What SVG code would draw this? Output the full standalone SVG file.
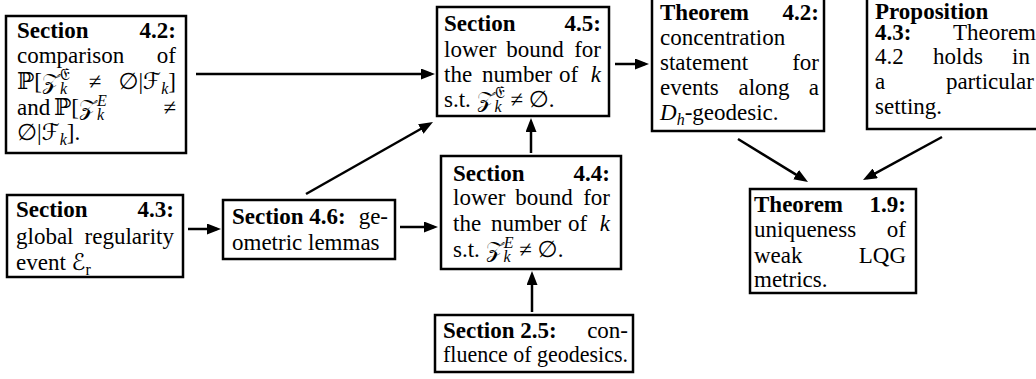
<svg xmlns="http://www.w3.org/2000/svg" width="1036" height="379" viewBox="0 0 1036 379">
<style>
.box{fill:#fff;stroke:#000;stroke-width:2.5}
.t{font-family:"Liberation Serif","DejaVu Serif","DejaVu Sans",serif;font-size:23px;fill:#000}
.b{font-weight:bold}
.e{text-anchor:end}
.m{text-anchor:middle}
.i{font-style:italic}
.s{font-size:16px}
.c{stroke:#000;stroke-width:2.5;fill:none;marker-end:url(#ah)}
</style>
<defs>
<marker id="ah" markerWidth="14" markerHeight="11" refX="10" refY="5.5" orient="auto" markerUnits="userSpaceOnUse"><path d="M0,0 L14,5.5 L0,11 z" fill="#000"/></marker>
</defs>
<rect width="1036" height="379" fill="#fff"/>
<g id="connectors">
<line class="c" x1="196" y1="74" x2="431" y2="74"/>
<line class="c" x1="306" y1="194" x2="429.5" y2="124"/>
<line class="c" x1="188" y1="229" x2="217" y2="229"/>
<line class="c" x1="400" y1="227" x2="434" y2="227"/>
<line class="c" x1="531" y1="153" x2="531" y2="122"/>
<line class="c" x1="532" y1="312" x2="532" y2="275"/>
<line class="c" x1="615" y1="64" x2="645" y2="64"/>
<line class="c" x1="738" y1="139" x2="804.6" y2="179.9"/>
<line class="c" x1="942" y1="137" x2="866.5" y2="178.1"/>
</g>
<g id="sec42">
<rect class="box" x="6" y="16" width="180" height="137"/>
<text class="t b" x="17" y="38">Section</text><text class="t b e" x="176" y="38">4.2:</text>
<text class="t" x="17" y="63">comparison</text><text class="t e" x="176" y="63">of</text>
<text class="t" x="17" y="89">ℙ[𝒵<tspan class="s i" dy="5">k</tspan><tspan class="s" dx="-7" dy="-14">𝔈</tspan></text>
<text class="t m" x="95" y="89">≠</text>
<text class="t e" x="176" y="89">∅|ℱ<tspan class="s i" dy="5">k</tspan><tspan dy="-5">]</tspan></text>
<text class="t" x="17" y="115">and</text>
<text class="t" x="54" y="115">ℙ[𝒵<tspan class="s i" dy="5">k</tspan><tspan class="s i" dx="-7" dy="-14">E</tspan></text>
<text class="t e" x="176" y="115">≠</text>
<text class="t" x="17" y="140">∅|ℱ<tspan class="s i" dy="5">k</tspan><tspan dy="-5">].</tspan></text>
</g>
<g id="sec45">
<rect class="box" x="437" y="7" width="172" height="109"/>
<text class="t b" x="444" y="31">Section</text><text class="t b e" x="601" y="31">4.5:</text>
<text class="t" x="444" y="57">lower</text><text class="t m" x="535" y="57">bound</text><text class="t e" x="601" y="57">for</text>
<text class="t" x="444" y="82">the</text><text class="t" x="482" y="82">number</text><text class="t" x="559" y="82">of</text><text class="t i e" x="601" y="82">k</text>
<text class="t" x="444" y="107">s.t. 𝒵<tspan class="s i" dy="5">k</tspan><tspan class="s" dx="-7" dy="-14">𝔈</tspan><tspan dy="9"> ≠ ∅.</tspan></text>
</g>
<g id="thm42">
<rect class="box" x="652" y="-10" width="172" height="141"/>
<text class="t b" x="660" y="20">Theorem</text><text class="t b e" x="819" y="20">4.2:</text>
<text class="t" x="660" y="45">concentration</text>
<text class="t" x="660" y="70">statement</text><text class="t e" x="819" y="70">for</text>
<text class="t" x="660" y="95">events</text><text class="t m" x="764" y="95">along</text><text class="t e" x="819" y="95">a</text>
<text class="t" x="660" y="120"><tspan class="i">D</tspan><tspan class="s i" dy="5">h</tspan><tspan dy="-5">-geodesic.</tspan></text>
</g>
<g id="prop43">
<rect class="box" x="867" y="-10" width="180" height="139"/>
<text class="t b" x="875" y="19">Proposition</text>
<text class="t b" x="875" y="40">4.3:</text><text class="t e" x="1036" y="40">Theorem</text>
<text class="t" x="875" y="64">4.2</text><text class="t m" x="958" y="64">holds</text><text class="t e" x="1030" y="64">in</text>
<text class="t" x="875" y="89">a</text><text class="t e" x="1034" y="89">particular</text>
<text class="t" x="875" y="114">setting.</text>
</g>
<g id="sec43">
<rect class="box" x="7" y="195" width="176" height="82"/>
<text class="t b" x="16" y="217">Section</text><text class="t b e" x="174" y="217">4.3:</text>
<text class="t" x="16" y="244">global</text><text class="t e" x="174" y="244">regularity</text>
<text class="t" x="16" y="270">event ℰ<tspan class="s" dy="5">r</tspan></text>
</g>
<g id="sec46">
<rect class="box" x="223" y="200" width="172" height="59"/>
<text class="t b" x="232" y="224">Section 4.6:</text><text class="t e" x="388" y="224">ge-</text>
<text class="t" x="232" y="250">ometric lemmas</text>
</g>
<g id="sec44">
<rect class="box" x="441" y="156" width="180" height="113"/>
<text class="t b" x="453" y="181">Section</text><text class="t b e" x="610" y="181">4.4:</text>
<text class="t" x="453" y="205">lower</text><text class="t m" x="544" y="205">bound</text><text class="t e" x="610" y="205">for</text>
<text class="t" x="453" y="231">the</text><text class="t" x="491" y="231">number</text><text class="t" x="568" y="231">of</text><text class="t i e" x="610" y="231">k</text>
<text class="t" x="453" y="257">s.t. 𝒵<tspan class="s i" dy="5">k</tspan><tspan class="s i" dx="-7" dy="-14">E</tspan><tspan dy="9"> ≠ ∅.</tspan></text>
</g>
<g id="sec25">
<rect class="box" x="435" y="315" width="198" height="57"/>
<text class="t b" x="443" y="338">Section 2.5:</text><text class="t e" x="628" y="338">con-</text>
<text class="t" x="443" y="362" textLength="185" lengthAdjust="spacingAndGlyphs">fluence of geodesics.</text>
</g>
<g id="thm19">
<rect class="box" x="750" y="189" width="166" height="104"/>
<text class="t b" x="754" y="212">Theorem</text><text class="t b e" x="906" y="212">1.9:</text>
<text class="t" x="754" y="237">uniqueness</text><text class="t e" x="906" y="237">of</text>
<text class="t" x="754" y="263">weak</text><text class="t e" x="906" y="263">LQG</text>
<text class="t" x="754" y="287">metrics.</text>
</g>
</svg>
